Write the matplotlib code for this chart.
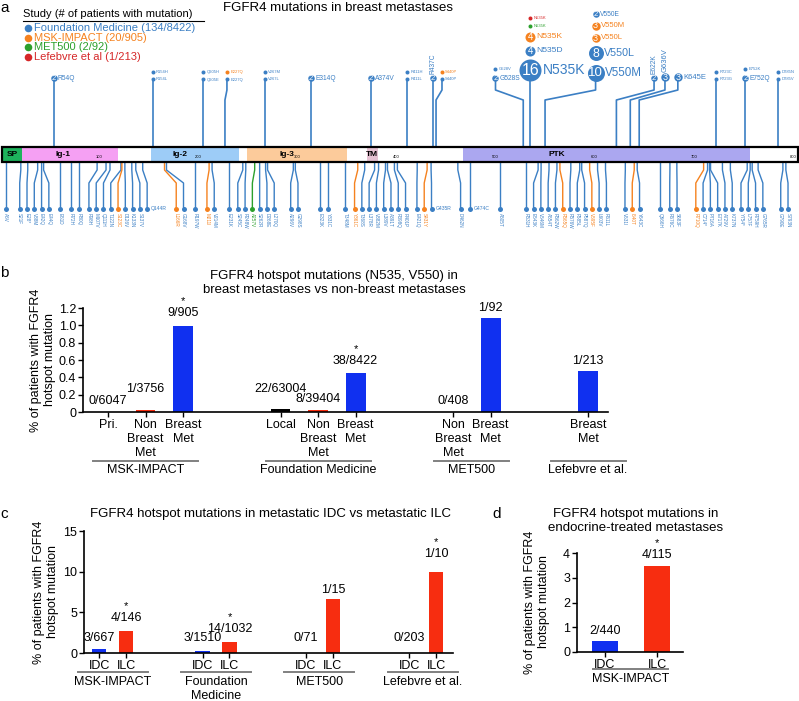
# FGFR4 mutations in breast metastases - lollipop map + hotspot bar charts
import re
import numpy as np
import matplotlib.pyplot as plt
from matplotlib import transforms
from matplotlib.patches import Rectangle

plt.rcParams['font.family'] = ['Liberation Sans', 'DejaVu Sans']

W, H = 799, 701
fig = plt.figure(figsize=(W / 100, H / 100), dpi=100)

BLUE = '#3b7fc4'
ORANGE = '#f5821f'
GREEN = '#2ca02c'
RED = '#d62728'
study_color = {'FM': BLUE, 'MSK': ORANGE, 'MET': GREEN, 'LEF': RED}

# ---------------- panel a data ----------------
legend_labels = ['Foundation Medicine (134/8422)', 'MSK-IMPACT (20/905)',
                 'MET500 (2/92)', 'Lefebvre et al (1/213)']
legend_studies = ['FM', 'MSK', 'MET', 'LEF']

domain_names = ['SP', 'Ig-1', 'Ig-2', 'Ig-3', 'TM', 'PTK']
domain_start = [2, 22, 152, 249, 370, 467]
domain_end = [22, 119, 241, 350, 381, 757]
domain_colors = ['#1db35c', '#f5a0f3', '#9dccf7', '#fccb9b', '#e6c2d3', '#aba7f0']
domain_label_pos = [12, 64, 182, 290, 375, 562]
protein_end = 805
axis_ticks = [100, 200, 300, 400, 500, 600, 700, 800]

# mutations above the bar: residue, stacked counts / labels / study (bottom to top)
up_pos = [54, 154, 205, 227, 267, 314, 374, 411, 437, 440, 528, 535, 550,
          622, 636, 645, 723, 752, 785]
up_counts = [[2], [1, 1], [1, 1], [1, 1], [1, 1], [2], [2], [1, 1], [2], [1, 1],
             [2, 1], [16, 4, 4, 1, 1], [10, 8, 3, 3, 2], [2], [3], [3], [1, 1],
             [2, 1], [1, 1]]
up_labels = [['R54Q'], ['R154L', 'R154H'], ['Q205E', 'Q205H'], ['E227Q', 'E227Q'],
             ['V267L', 'V267M'], ['E314Q'], ['A374V'], ['R411L', 'R411H'], ['R437C'],
             ['S440P', 'S440P'], ['G528S', 'G528V'],
             ['N535K', 'N535D', 'N535K', 'N535K', 'N535K'],
             ['V550M', 'V550L', 'V550L', 'V550M', 'V550E'],
             ['E622K'], ['G636V'], ['K645E'], ['R723G', 'R723C'], ['E752Q', 'E752K'],
             ['D785V', 'D785N']]
up_study = [['FM'], ['FM', 'FM'], ['FM', 'FM'], ['FM', 'MSK'], ['FM', 'FM'], ['FM'],
            ['FM'], ['FM', 'FM'], ['FM'], ['FM', 'MSK'], ['FM', 'FM'],
            ['FM', 'FM', 'MSK', 'MET', 'LEF'], ['FM', 'FM', 'MSK', 'MSK', 'FM'],
            ['FM'], ['FM'], ['FM'], ['FM', 'FM'], ['FM', 'FM'], ['FM', 'FM']]

# single mutations below the bar
low_labels = ['A6V', 'S21F', 'E28*', 'V38M', 'E42Q', 'E44Q', 'E61D', 'R72H', 'R80Q',
              'R98H', 'M107V', 'Q111H', 'T122N', 'S123C', 'D126V', 'K133N', 'S137V',
              'Q144R', 'L166R', 'G168V', 'R197W', 'M211I', 'V214M', 'E231K', 'S245C',
              'R248W', 'A257V', 'S262R', 'D268E', 'L270Q', 'A296V', 'G298S', 'E323K',
              'Y331C', 'T348M', 'Y361C', 'T368S', 'L378R', 'V382M', 'L389V', 'A391T',
              'R398Q', 'R401P', 'E421Q', 'S431Y', 'G435R', 'D462N', 'G474C', 'A505T',
              'R531H', 'E543K', 'V546M', 'A554T', 'R562W', 'R565Q', 'R576W', 'F585L',
              'P587Q', 'V595F', 'L603V', 'R611L', 'V631I', 'I640T', 'Y643C', 'Q666H',
              'R676C', 'S683F', 'R710Q', 'C714*', 'P716A', 'E717K', 'A729V', 'K737N',
              'Y754*', 'L757F', 'R759H', 'G765R', 'G790E', 'S793N']
low_msk = ['S123C', 'L166R', 'M211I', 'Y361C', 'S431Y', 'R565Q', 'V595F', 'I640T', 'R710Q']
low_met = ['A257V']
low_side_label = ['Q144R', 'G435R', 'G474C']

# ---------------- panel b/c/d data ----------------
b_cats = ['Pri.', 'Non\nBreast\nMet', 'Breast\nMet', 'Local', 'Non\nBreast\nMet',
          'Breast\nMet', 'Non\nBreast\nMet', 'Breast\nMet', 'Breast\nMet']
b_kind = ['pri', 'non', 'met', 'local', 'non', 'met', 'non', 'met', 'met']
b_vals = [0, 0.027, 0.99, 0.035, 0.02, 0.45, 0, 1.09, 0.47]
b_text = ['0/6047', '1/3756', '9/905', '22/63004', '8/39404', '38/8422', '0/408',
          '1/92', '1/213']
b_star = [False, False, True, False, False, True, False, False, False]
b_groups = ['MSK-IMPACT', 'Foundation Medicine', 'MET500', 'Lefebvre et al.']
b_group_n = [3, 3, 2, 1]

c_cats = ['IDC', 'ILC'] * 4
c_vals = [0.45, 2.74, 0.2, 1.36, 0, 6.67, 0, 10]
c_text = ['3/667', '4/146', '3/1510', '14/1032', '0/71', '1/15', '0/203', '1/10']
c_star = [False, True, False, True, False, False, False, True]
c_groups = ['MSK-IMPACT', 'Foundation\nMedicine', 'MET500', 'Lefebvre et al.']

d_cats = ['IDC', 'ILC']
d_vals = [0.45, 3.48]
d_text = ['2/440', '4/115']
d_star = [False, True]
d_group = 'MSK-IMPACT'

BAR_BLUE = '#1030f0'
BAR_RED = '#f72d10'
kind_color = {'pri': 'black', 'local': 'black', 'non': BAR_RED, 'met': BAR_BLUE}


def px_axes(x0, y0, x1, y1):
    return fig.add_axes([x0 / W, 1 - y1 / H, (x1 - x0) / W, (y1 - y0) / H])


def fig_text(x, y, s, **kw):
    fig.text(x / W, 1 - y / H, s, **kw)


def rad(c):
    return 3 * np.sqrt(c) - 1


def fsz(c):
    return 3 + 1.8 * np.sqrt(c - 1)


def spread(pos, gaps, iters=3000):
    p = np.array(pos, float)
    g = np.array(gaps, float)[:-1]
    for _ in range(iters):
        over = np.clip(g - np.diff(p), 0, None)
        if over.max() < 0.01:
            break
        p[:-1] -= over / 2
        p[1:] += over / 2
    return p


# ================= panel a =================
SX = 0.991  # pixels per residue
ax = px_axes(0, 0, W, 265)
ax.set_xlim(0, W / SX)
ax.set_ylim(265, 0)
ax.axis('off')

BAR_TOP, BAR_BOT = 147, 162
for s, e, c in zip(domain_start, domain_end, domain_colors):
    ax.add_patch(Rectangle((s, BAR_TOP), e - s, BAR_BOT - BAR_TOP, facecolor=c,
                           edgecolor='none', zorder=1))
ax.add_patch(Rectangle((2, BAR_TOP), protein_end - 2, BAR_BOT - BAR_TOP,
                       facecolor='none', edgecolor='black', lw=1.6, zorder=3))
for name, xp in zip(domain_names, domain_label_pos):
    ax.text(xp, 154, name, fontsize=6, fontweight='bold', ha='center', va='center', zorder=4)
for t in axis_ticks:
    ax.text(t, 157.5, str(t), fontsize=3, ha='center', va='center', zorder=4)

# upper lollipops (layout shift of crowded pins)
pin_shift = {227: 2, 440: 6, 528: -28, 550: 51, 622: 38, 636: 35, 645: 39}
rotated_up = [437, 622, 636]
Y_BASE = 81.5
for p, counts, labs, studies in zip(up_pos, up_counts, up_labels, up_study):
    pin = p + pin_shift.get(p, 0)
    lc = study_color[studies[0]]
    if pin == p:
        ax.plot([p, p], [BAR_TOP, Y_BASE], color=lc, lw=1.2, zorder=2)
    else:
        ax.plot([p, p, pin, pin], [BAR_TOP, 100, 90, Y_BASE], color=lc, lw=1.2, zorder=2)
    y = None
    prev_r = 0
    for c, lab, st in zip(counts, labs, studies):
        r = rad(c)
        if y is None:
            y = Y_BASE - r
        else:
            y = y - prev_r - 3.8 - r
        prev_r = r
        col = study_color[st]
        ax.scatter([pin], [y], s=(1.44 * r) ** 2, color=col, zorder=5, linewidths=0)
        if c > 1:
            ax.text(pin, y + 0.3, str(c), color='white', fontsize=fsz(c) * 1.15,
                    ha='center', va='center', zorder=6)
        if p in rotated_up:
            ax.text(pin, y - r - 1.5, lab, color=col, fontsize=fsz(c), rotation=90,
                    ha='center', va='bottom', zorder=6)
        else:
            ax.text(pin + (r + 1.2) / SX, y, lab, color=col, fontsize=fsz(c),
                    ha='left', va='center', zorder=6)

# lower lollipops
low_pos = [int(re.findall(r'\d+', s)[0]) for s in low_labels]
gaps = [7.35 + (22 if s in low_side_label else 0) for s in low_labels]
pins = spread(low_pos, gaps)
for lab, p, pin in zip(low_labels, low_pos, pins):
    col = ORANGE if lab in low_msk else GREEN if lab in low_met else BLUE
    ax.plot([p, p, pin, pin], [BAR_BOT, 170, 183, 209], color=col, lw=1.0, zorder=2)
    ax.scatter([pin], [209], s=(1.44 * 2.5) ** 2, color=col, zorder=5, linewidths=0)
    if lab in low_side_label:
        ax.text(pin + 4 / SX, 209, lab, color=col, fontsize=3.6, ha='left', va='center')
    else:
        ax.text(pin, 213, lab, color=col, fontsize=3.3, rotation=270,
                ha='center', va='top')

# legend
ax.text(23 / SX, 14, 'Study (# of patients with mutation)', fontsize=8, va='center')
ax.plot([23 / SX, 204 / SX], [21, 21], color='black', lw=0.8)
for i, (lab, st) in enumerate(zip(legend_labels, legend_studies)):
    yy = 28 + 9.7 * i
    ax.scatter([28 / SX], [yy], s=(1.44 * 3.8) ** 2, color=study_color[st], linewidths=0)
    ax.text(34 / SX, yy, lab, color=study_color[st], fontsize=8, va='center')

ax.text(223 / SX, 8, 'FGFR4 mutations in breast metastases', fontsize=9.5, va='center')
fig_text(5, 8, 'a', fontsize=11, va='center', ha='center')


# ================= bar panels =================
def bar_panel(rect, xs, vals, colors, cats, texts, stars, lifts, width, xlim,
              ylim, yticks, yticklabels):
    a = px_axes(*rect)
    a.bar(xs, vals, width=width, color=colors, zorder=2)
    a.set_xlim(*xlim)
    a.set_ylim(*ylim)
    a.set_yticks(yticks, yticklabels)
    a.set_xticks(xs, cats)
    a.spines[['top', 'right']].set_visible(False)
    a.spines[['left', 'bottom']].set_linewidth(1.2)
    a.tick_params(axis='both', labelsize=9, length=3.5, width=1.0, pad=1.5)
    for x, v, t, s, l in zip(xs, vals, texts, stars, lifts):
        a.annotate(t, (x, v), xytext=(0, l * 0.72), textcoords='offset points',
                   ha='center', va='bottom', fontsize=9)
        if s:
            a.annotate('*', (x, v), xytext=(0, (l + 13) * 0.72), textcoords='offset points',
                       ha='center', va='bottom', fontsize=8)
    return a


def group_lines(a, spans, names, y_line, y_text):
    tr = transforms.blended_transform_factory(a.transData, fig.transFigure)
    for (x0, x1), name in zip(spans, names):
        a.plot([x0, x1], [1 - y_line / H] * 2, transform=tr, clip_on=False,
               color='#808080', lw=1.4)
        a.text((x0 + x1) / 2, 1 - y_text / H, name, transform=tr, ha='center',
               va='top', fontsize=9, linespacing=1.25)


# ----- panel b -----
b_x = []
start = 0
for n in b_group_n:
    b_x += [start + k for k in range(n)]
    start += n - 1 + 2.6
b_lift = [5, 14.5, 7, 14, 5, 6, 5, 4, 4]
axb = bar_panel((83, 308, 608, 412), b_x, b_vals, [kind_color[k] for k in b_kind],
                b_cats, b_text, b_star, b_lift, 0.53, (-0.667, 13.33), (0, 1.2),
                [0, 0.2, 0.4, 0.6, 0.8, 1.0, 1.2],
                ['0', '0.2', '0.4', '0.6', '0.8', '1.0', '1.2'])
for lab in axb.get_xticklabels():
    lab.set_linespacing(1.2)
spans = []
i = 0
for n in b_group_n:
    x0, x1 = b_x[i] - 0.4, b_x[i + n - 1] + 0.4
    if x1 - x0 < 2:
        mid = (x0 + x1) / 2
        x0, x1 = mid - 1, mid + 1
    spans.append((x0, x1))
    i += n
group_lines(axb, spans, b_groups, 461, 464)
fig_text(334, 283, 'FGFR4 hotspot mutations (N535, V550) in\nbreast metastases vs non-breast metastases',
         fontsize=9.5, ha='center', va='center', linespacing=1.25)
fig_text(43, 360, '% of patients with FGFR4\nhotspot mutation', fontsize=9, rotation=90,
         ha='center', va='center', linespacing=1.15)
fig_text(4, 273, 'b', fontsize=11, ha='center', va='center')

# ----- panel c -----
c_x = [g * 3.83 + k for g in range(4) for k in range(2)]
c_lift = [5, 7, 7, 7, 9, 3, 9, 12]
c_colors = [BAR_BLUE, BAR_RED] * 4
axc = bar_panel((84, 531, 453, 653), c_x, c_vals, c_colors, c_cats, c_text, c_star,
                c_lift, 0.52, (-0.56, 13.11), (0, 15), [0, 5, 10, 15],
                ['0', '5', '10', '15'])
c_spans = [((c_x[2 * g] + c_x[2 * g + 1]) / 2 - 1.3, (c_x[2 * g] + c_x[2 * g + 1]) / 2 + 1.3)
           for g in range(4)]
group_lines(axc, c_spans, c_groups, 672, 676)
fig_text(270, 514, 'FGFR4 hotspot mutations in metastatic IDC vs metastatic ILC',
         fontsize=9.5, ha='center', va='center')
fig_text(46, 592, '% of patients with FGFR4\nhotspot mutation', fontsize=9, rotation=90,
         ha='center', va='center', linespacing=1.15)
fig_text(4, 514, 'c', fontsize=11, ha='center', va='center')

# ----- panel d -----
d_x = [0, 1]
axd = bar_panel((577, 553, 683, 652), d_x, d_vals, [BAR_BLUE, BAR_RED], d_cats, d_text,
                d_star, [4, 4.5], 0.5, (-0.54, 1.5), (0, 4), [0, 1, 2, 3, 4],
                ['0', '1', '2', '3', '4'])
group_lines(axd, [(-0.23, 1.21)], [d_group], 669, 673)
fig_text(636, 521, 'FGFR4 hotspot mutations in\nendocrine-treated metastases',
         fontsize=9.5, ha='center', va='center', linespacing=1.2)
fig_text(537, 602, '% of patients with FGFR4\nhotspot mutation', fontsize=9, rotation=90,
         ha='center', va='center', linespacing=1.15)
fig_text(497, 514, 'd', fontsize=11, ha='center', va='center')

fig.savefig('out.png', dpi=100)
